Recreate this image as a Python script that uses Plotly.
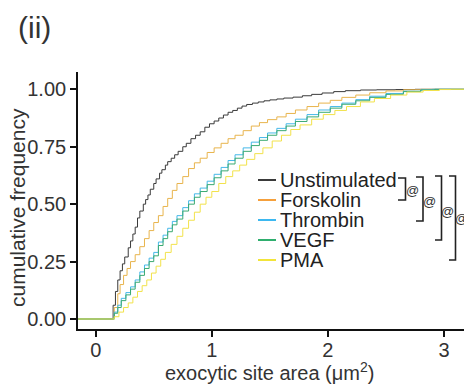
import plotly.graph_objects as go

# ---------------- data ----------------
series_names = ["Unstimulated", "Forskolin", "Thrombin", "VEGF", "PMA"]

unstim_x = [0.13, 0.15, 0.17, 0.19, 0.21, 0.23, 0.25, 0.28, 0.30, 0.32, 0.34, 0.36, 0.38, 0.41, 0.43,
            0.45, 0.47, 0.50, 0.52, 0.55, 0.57, 0.60, 0.62, 0.65, 0.68, 0.71, 0.75, 0.78, 0.82, 0.86,
            0.90, 0.94, 0.98, 1.02, 1.06, 1.10, 1.14, 1.18, 1.22, 1.26, 1.30, 1.35, 1.40, 1.45, 1.50,
            1.56, 1.62, 1.70, 1.78, 1.86, 1.95, 2.05, 2.15, 2.28, 2.42, 2.58, 2.75]
unstim_y = [0.0, 0.06, 0.12, 0.17, 0.21, 0.24, 0.27, 0.31, 0.34, 0.37, 0.40, 0.44, 0.47, 0.50, 0.52,
            0.54, 0.565, 0.59, 0.61, 0.635, 0.65, 0.67, 0.685, 0.70, 0.715, 0.73, 0.75, 0.765, 0.785, 0.80,
            0.815, 0.835, 0.85, 0.862, 0.875, 0.888, 0.90, 0.908, 0.918, 0.927, 0.934, 0.94, 0.945, 0.95, 0.954,
            0.958, 0.962, 0.966, 0.972, 0.978, 0.984, 0.99, 0.994, 0.997, 0.998, 0.999, 1.0]

forsk_x = [0.13, 0.16, 0.19, 0.21, 0.24, 0.27, 0.30, 0.34, 0.38, 0.42, 0.46, 0.50, 0.54, 0.58, 0.62,
           0.66, 0.70, 0.75, 0.80, 0.85, 0.90, 0.96, 1.02, 1.08, 1.14, 1.20, 1.27, 1.34, 1.41, 1.48,
           1.56, 1.64, 1.72, 1.82, 1.92, 2.02, 2.12, 2.24, 2.36, 2.50, 2.65, 2.80]
forsk_y = [0.0, 0.05, 0.11, 0.15, 0.19, 0.22, 0.25, 0.28, 0.315, 0.35, 0.385, 0.42, 0.45, 0.49, 0.525,
           0.56, 0.59, 0.62, 0.655, 0.68, 0.70, 0.725, 0.745, 0.765, 0.785, 0.80, 0.82, 0.84, 0.855, 0.868,
           0.88, 0.895, 0.91, 0.925, 0.94, 0.952, 0.965, 0.975, 0.985, 0.993, 0.998, 1.0]

thromb_x = [0.13, 0.16, 0.19, 0.22, 0.26, 0.30, 0.34, 0.38, 0.42, 0.46, 0.50, 0.54, 0.58, 0.62, 0.66,
            0.70, 0.75, 0.80, 0.85, 0.90, 0.96, 1.02, 1.08, 1.14, 1.20, 1.27, 1.34, 1.41, 1.48, 1.56,
            1.64, 1.72, 1.82, 1.92, 2.02, 2.12, 2.24, 2.36, 2.50, 2.65, 2.80, 2.90]
thromb_y = [0.0, 0.03, 0.06, 0.09, 0.115, 0.14, 0.17, 0.205, 0.235, 0.265, 0.29, 0.335, 0.365, 0.395, 0.425,
            0.45, 0.485, 0.515, 0.545, 0.57, 0.60, 0.63, 0.66, 0.69, 0.715, 0.745, 0.77, 0.79, 0.81, 0.83,
            0.85, 0.87, 0.89, 0.91, 0.925, 0.94, 0.955, 0.97, 0.982, 0.992, 0.998, 1.0]

vegf_x = [0.13, 0.16, 0.19, 0.22, 0.26, 0.30, 0.34, 0.38, 0.42, 0.46, 0.50, 0.54, 0.58, 0.62, 0.66,
          0.70, 0.75, 0.80, 0.85, 0.90, 0.96, 1.02, 1.08, 1.14, 1.20, 1.27, 1.34, 1.41, 1.48, 1.56,
          1.64, 1.72, 1.82, 1.92, 2.02, 2.12, 2.24, 2.36, 2.50, 2.65, 2.80, 2.92]
vegf_y = [0.0, 0.025, 0.05, 0.08, 0.105, 0.13, 0.16, 0.19, 0.22, 0.25, 0.275, 0.32, 0.35, 0.38, 0.41,
          0.435, 0.47, 0.50, 0.53, 0.555, 0.585, 0.615, 0.645, 0.675, 0.70, 0.73, 0.755, 0.778, 0.80, 0.82,
          0.84, 0.86, 0.88, 0.90, 0.918, 0.935, 0.95, 0.965, 0.978, 0.99, 0.997, 1.0]

pma_x = [0.13, 0.16, 0.20, 0.24, 0.28, 0.32, 0.36, 0.40, 0.44, 0.48, 0.52, 0.56, 0.60, 0.65, 0.70,
         0.75, 0.80, 0.85, 0.90, 0.95, 1.00, 1.06, 1.12, 1.18, 1.24, 1.30, 1.37, 1.44, 1.52, 1.60,
         1.68, 1.76, 1.86, 1.96, 2.06, 2.16, 2.28, 2.40, 2.54, 2.68, 2.82, 2.96, 3.06]
pma_y = [0.0, 0.01, 0.03, 0.05, 0.07, 0.095, 0.12, 0.145, 0.17, 0.20, 0.23, 0.26, 0.29, 0.325, 0.36,
         0.395, 0.43, 0.465, 0.50, 0.53, 0.555, 0.59, 0.62, 0.645, 0.67, 0.695, 0.72, 0.745, 0.775, 0.80,
         0.825, 0.845, 0.87, 0.89, 0.908, 0.925, 0.945, 0.96, 0.975, 0.988, 0.995, 0.999, 1.0]

series_x = [unstim_x, forsk_x, thromb_x, vegf_x, pma_x]
series_y = [unstim_y, forsk_y, thromb_y, vegf_y, pma_y]

x_ticks = [0, 1, 2, 3]
y_ticks = [0, 0.25, 0.5, 0.75, 1.0]
y_tick_labels = ["0.00", "0.25", "0.50", "0.75", "1.00"]

# ---------------- styling ----------------
curve_colors = ["#3a3a3a", "#E8B44C", "#45B8E8", "#3BAA72", "#F2E24A"]
key_colors = ["#3a3a3a", "#F5A03C", "#3DB8F0", "#2FAE6E", "#F2E43A"]
FONT = "Liberation Sans, Arial, sans-serif"
TXT = "#333333"

W, H = 464, 385
ML, MR, MT, MB = 78, 0, 72, 56
PW, PH = W - ML - MR, H - MT - MB
X_RANGE = [-0.1525, 3.172]
Y_RANGE = [-0.0435, 1.0754]


def fx(px):
    return (px - ML) / PW


def fy(py):
    return (H - MB - py) / PH


fig = go.Figure()
for name, xs, ys, col in zip(series_names, series_x, series_y, curve_colors):
    # ECDF padded to the panel edges (-Inf / +Inf as in stat_ecdf)
    fig.add_trace(go.Scatter(
        x=[X_RANGE[0] - 0.1] + xs + [X_RANGE[1] + 0.1],
        y=[0.0] + ys + [1.0],
        mode="lines", line=dict(color=col, width=1, shape="hv"),
        name=name, showlegend=False, hoverinfo="skip"))

shapes = []
annotations = []

# manual legend
legend_rows = [180, 200, 220, 240, 260]
for name, col, ry in zip(series_names, key_colors, legend_rows):
    shapes.append(dict(type="line", xref="paper", yref="paper",
                       x0=fx(258), x1=fx(276), y0=fy(ry), y1=fy(ry),
                       line=dict(color=col, width=2)))
    annotations.append(dict(xref="paper", yref="paper", x=fx(278), y=fy(ry),
                            xanchor="left", yanchor="middle", showarrow=False,
                            text=name, font=dict(family=FONT, size=20, color="#222222")))

# significance brackets
brackets = [(398, 405.5, 178, 200, 412, 190),
            (416, 423, 177, 221, 429, 201),
            (435, 441.5, 176, 240, 447.5, 211),
            (449, 455.5, 176, 260, 461, 218)]
for x0, x1, yt, yb, ax, ay in brackets:
    shapes.append(dict(type="path", xref="paper", yref="paper",
                       path=f"M {fx(x0)},{fy(yt)} L {fx(x1)},{fy(yt)} L {fx(x1)},{fy(yb)} L {fx(x0)},{fy(yb)}",
                       line=dict(color="#222222", width=1.6)))
    annotations.append(dict(xref="paper", yref="paper", x=fx(ax), y=fy(ay),
                            xanchor="center", yanchor="middle", showarrow=False,
                            text="@", font=dict(family=FONT, size=13, color="#333333")))

# panel label and axis titles
annotations.append(dict(xref="paper", yref="paper", x=fx(16), y=fy(28),
                        xanchor="left", yanchor="middle", showarrow=False,
                        text="(ii)", font=dict(family=FONT, size=30, color=TXT)))
annotations.append(dict(xref="paper", yref="paper", x=fx(17), y=fy(208),
                        xanchor="center", yanchor="middle", showarrow=False, textangle=-90,
                        text="cumulative frequency", font=dict(family=FONT, size=21, color=TXT)))
annotations.append(dict(xref="paper", yref="paper", x=fx(269), y=fy(371),
                        xanchor="center", yanchor="middle", showarrow=False,
                        text="exocytic site area (\u03bcm<sup>2</sup>)",
                        font=dict(family=FONT, size=20, color=TXT)))

fig.update_layout(
    width=W, height=H,
    margin=dict(l=ML, r=MR, t=MT, b=MB, pad=0),
    paper_bgcolor="white", plot_bgcolor="white",
    showlegend=False,
    shapes=shapes, annotations=annotations,
    font=dict(family=FONT, size=20, color=TXT),
)
fig.update_xaxes(range=X_RANGE, tickvals=x_ticks, ticktext=[str(v) for v in x_ticks],
                 showgrid=False, zeroline=False, showline=True, linecolor="#111111", linewidth=1.6,
                 ticks="outside", ticklen=6, tickwidth=1.5, tickcolor="#111111",
                 ticklabelstandoff=-4,
                 tickfont=dict(family=FONT, size=20, color=TXT))
fig.update_yaxes(range=Y_RANGE, tickvals=y_ticks, ticktext=y_tick_labels,
                 showgrid=False, zeroline=False, showline=True, linecolor="#111111", linewidth=1.6,
                 ticks="outside", ticklen=6, tickwidth=1.5, tickcolor="#111111",
                 tickfont=dict(family=FONT, size=20, color=TXT))

fig.write_html("out.html")
